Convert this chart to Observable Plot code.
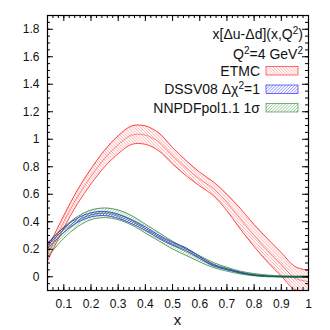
<!DOCTYPE html>
<html>
<head>
<meta charset="utf-8">
<script src="https://cdn.jsdelivr.net/npm/d3@7"></script>
<script src="https://cdn.jsdelivr.net/npm/@observablehq/plot@0.6"></script>
<style>
  body { margin: 0; background: #fff; }
  #chart svg { font-family: "Liberation Sans", Arial, Helvetica, sans-serif; }
</style>
</head>
<body>
<svg width="0" height="0" style="position:absolute">
  <defs>
    <pattern id="hatchRed" width="2.2" height="2.2" patternUnits="userSpaceOnUse" patternTransform="rotate(-45)">
      <line x1="0" y1="0" x2="0" y2="2.2" stroke="#ff2020" stroke-width="0.8" stroke-opacity="0.65"/>
    </pattern>
    <pattern id="hatchBlue" width="2.2" height="2.2" patternUnits="userSpaceOnUse" patternTransform="rotate(45)">
      <line x1="0" y1="0" x2="0" y2="2.2" stroke="#2020ff" stroke-width="0.9" stroke-opacity="0.8"/>
    </pattern>
    <pattern id="hatchGreen" width="2.2" height="2.2" patternUnits="userSpaceOnUse" patternTransform="rotate(45)">
      <line x1="0" y1="0" x2="0" y2="2.2" stroke="#2a8a2a" stroke-width="0.9" stroke-opacity="0.7"/>
    </pattern>
  </defs>
</svg>
<div id="chart"></div>
<script>
// ---- data ----
const xs        = [0.04, 0.1, 0.15, 0.2, 0.25, 0.3, 0.35, 0.4, 0.45, 0.5, 0.55, 0.6, 0.65, 0.7, 0.75, 0.8, 0.85, 0.9, 0.95, 1.0];
const etmcMid   = [0.16, 0.40, 0.58, 0.73, 0.86, 0.96, 1.03, 1.03, 0.98, 0.88, 0.79, 0.71, 0.64, 0.54, 0.42, 0.30, 0.19, 0.09, -0.01, -0.035];
const etmcErr   = [0.045, 0.045, 0.05, 0.055, 0.06, 0.065, 0.067, 0.067, 0.065, 0.06, 0.055, 0.05, 0.05, 0.06, 0.075, 0.08, 0.085, 0.085, 0.085, 0.08];
const dssvMid   = [0.225, 0.34, 0.41, 0.45, 0.46, 0.44, 0.40, 0.35, 0.29, 0.24, 0.20, 0.14, 0.085, 0.055, 0.03, 0.012, 0.004, 0.001, 0.0, 0.0];
const dssvErr   = [0.018, 0.017, 0.016, 0.015, 0.015, 0.015, 0.014, 0.013, 0.012, 0.011, 0.01, 0.008, 0.006, 0.004, 0.003, 0.002, 0.001, 0.001, 0.001, 0.001];
const nnpdfMid  = [0.19, 0.32, 0.40, 0.45, 0.465, 0.45, 0.41, 0.35, 0.29, 0.23, 0.18, 0.13, 0.085, 0.055, 0.03, 0.015, 0.006, 0.002, 0.0, 0.0];
const nnpdfErr  = [0.045, 0.04, 0.037, 0.035, 0.035, 0.035, 0.034, 0.032, 0.03, 0.028, 0.025, 0.022, 0.018, 0.014, 0.01, 0.008, 0.006, 0.005, 0.005, 0.005];

const xMajor = [0.1, 0.2, 0.3, 0.4, 0.5, 0.6, 0.7, 0.8, 0.9, 1.0];
const yMajor = [0, 0.2, 0.4, 0.6, 0.8, 1.0, 1.2, 1.4, 1.6, 1.8];
const xMinor = d3.range(0.04, 1.0001, 0.02).map(v => +v.toFixed(2));
const yMinor = d3.range(-0.1, 1.9001, 0.05).map(v => +v.toFixed(2));

const legendTitle = ["x[Δu-Δd](x,Q", "2", ")"];
const legendScale = ["Q", "2", "=4 GeV", "2"];
const seriesNames = ["ETMC", "DSSV08 Δχ²=1", "NNPDFpol1.1 1σ"];
const seriesFill  = ["url(#hatchRed)", "url(#hatchBlue)", "url(#hatchGreen)"];
const seriesLine  = ["#ff0000", "#0000ee", "#1a7a1a"];

// ---- build tables ----
function band(mid, err) {
  return xs.map((x, i) => ({x, mid: mid[i], lo: mid[i] - err[i], hi: mid[i] + err[i]}));
}
const sets = [band(etmcMid, etmcErr), band(dssvMid, dssvErr), band(nnpdfMid, nnpdfErr)];

const W = 330, H = 330, mL = 47, mR = 22, mT = 15, mB = 40;
const pw = W - mL - mR, ph = H - mT - mB;

const marks = [];
sets.forEach((data, k) => {
  marks.push(Plot.areaY(data, {x: "x", y1: "lo", y2: "hi", fill: seriesFill[k], curve: "catmull-rom", clip: true}));
  marks.push(Plot.line(data, {x: "x", y: "hi", stroke: seriesLine[k], strokeWidth: 0.8, strokeOpacity: 0.9, curve: "catmull-rom", clip: true}));
  marks.push(Plot.line(data, {x: "x", y: "lo", stroke: seriesLine[k], strokeWidth: 0.8, strokeOpacity: 0.9, curve: "catmull-rom", clip: true}));
  marks.push(Plot.line(data, {x: "x", y: "mid", stroke: seriesLine[k], strokeWidth: 0.7, strokeOpacity: 0.6, curve: "catmull-rom", clip: true}));
});

const tickStroke = {stroke: "#000", strokeWidth: 1};
marks.push(
  // minor ticks, inward, all four sides
  Plot.tickX(xMinor, {x: d => d, insetTop: ph - 3, ...tickStroke}),
  Plot.tickX(xMinor, {x: d => d, insetBottom: ph - 3, ...tickStroke}),
  Plot.tickY(yMinor, {y: d => d, insetRight: pw - 3, ...tickStroke}),
  Plot.tickY(yMinor, {y: d => d, insetLeft: pw - 3, ...tickStroke}),
  // major ticks
  Plot.tickX(xMajor, {x: d => d, insetTop: ph - 6, ...tickStroke}),
  Plot.tickX(xMajor, {x: d => d, insetBottom: ph - 6, ...tickStroke}),
  Plot.tickY(yMajor, {y: d => d, insetRight: pw - 6, ...tickStroke}),
  Plot.tickY(yMajor, {y: d => d, insetLeft: pw - 6, ...tickStroke}),
  Plot.axisX(xMajor, {tickSize: 0, tickPadding: 9, fontSize: 12, tickFormat: d => String(+d.toFixed(1)), label: null}),
  Plot.axisY(yMajor, {tickSize: 0, tickPadding: 8, fontSize: 12, tickFormat: d => String(+d.toFixed(1)), label: null}),
  Plot.frame({stroke: "#000", strokeWidth: 1.2})
);

const chart = Plot.plot({
  width: W, height: H,
  marginLeft: mL, marginRight: mR, marginTop: mT, marginBottom: mB,
  style: {fontFamily: '"Liberation Sans", Arial, Helvetica, sans-serif', fontSize: "12px", color: "#111"},
  x: {domain: [0.04, 1.0], label: null},
  y: {domain: [-0.1, 1.9], label: null},
  marks
});
document.getElementById("chart").appendChild(chart);

// ---- legend and axis label inside the svg ----
const svg = d3.select(chart);
const font = '"Liberation Sans", Arial, Helvetica, sans-serif';
const right = 303;

function supText(parts, supIdx, y) {
  const t = svg.append("text").attr("x", right).attr("y", y).attr("text-anchor", "end")
    .attr("font-family", font).attr("font-size", 14).attr("fill", "#111");
  parts.forEach((p, i) => {
    const ts = t.append("tspan").text(p);
    if (supIdx.includes(i)) ts.attr("font-size", 10).attr("baseline-shift", "super");
  });
}
supText(legendTitle, [1], 39);
supText(legendScale, [1, 3], 59);

const rowBase = [75.5, 94, 112.5];
seriesNames.forEach((name, k) => {
  const tx = svg.append("text").attr("x", 260).attr("y", rowBase[k]).attr("text-anchor", "end")
    .attr("font-family", font).attr("font-size", 14).attr("fill", "#111");
  if (k === 1) {
    tx.append("tspan").text("DSSV08 Δχ");
    tx.append("tspan").text("2").attr("font-size", 10).attr("baseline-shift", "super");
    tx.append("tspan").text("=1");
  } else {
    tx.text(name);
  }
  svg.append("rect").attr("x", 266).attr("y", rowBase[k] - 9).attr("width", 32).attr("height", 8.5)
    .attr("fill", seriesFill[k]).attr("stroke", seriesLine[k]).attr("stroke-width", 0.7).attr("stroke-opacity", 0.8);
});

svg.append("text").attr("x", mL + pw / 2).attr("y", 325).attr("text-anchor", "middle")
  .attr("font-family", font).attr("font-size", 15).attr("fill", "#111").text("x");
</script>
</body>
</html>
